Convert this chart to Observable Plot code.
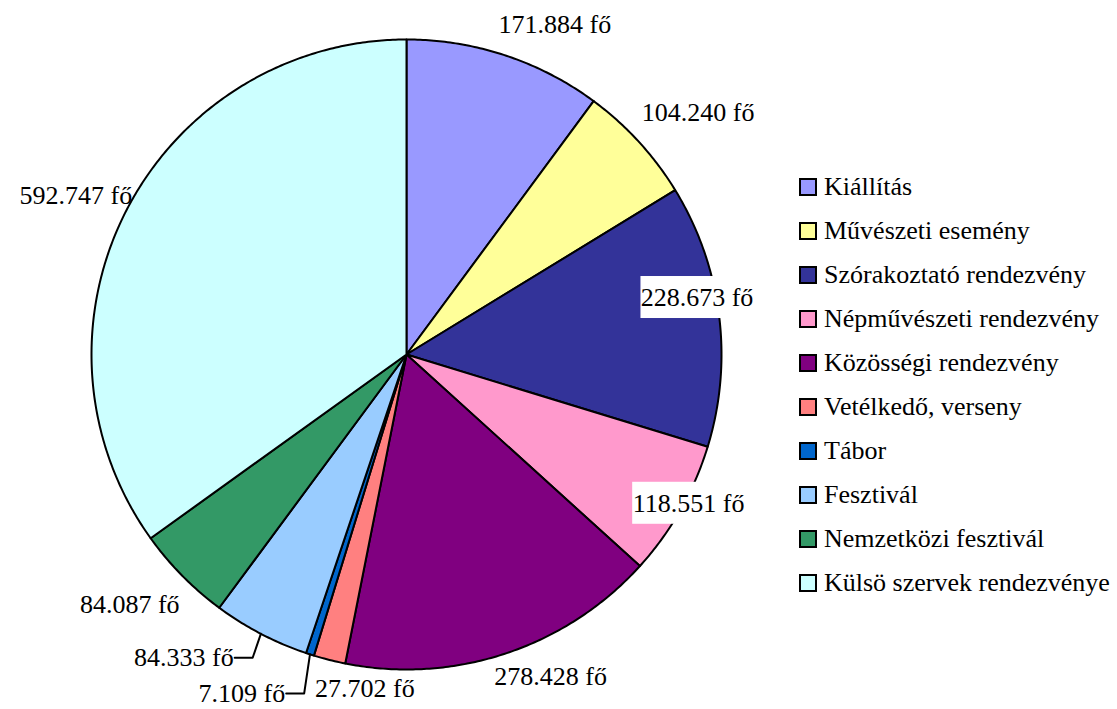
<!DOCTYPE html>
<html>
<head>
<meta charset="utf-8">
<script src="https://cdn.jsdelivr.net/npm/d3@7"></script>
<script src="https://cdn.jsdelivr.net/npm/@observablehq/plot@0.6"></script>
<style>
  html, body { margin: 0; padding: 0; background: #fff; }
  #wrap { position: relative; width: 1117px; height: 709px; overflow: hidden; }
  #legend { position: absolute; left: 799px; top: 165px; font-family: 'Liberation Serif', 'Times New Roman', Times, serif; font-size: 26px; color: #000; }
  .item { display: flex; align-items: center; height: 44px; white-space: nowrap; }
  .sw { width: 14px; height: 14px; border: 2px solid #000; margin-right: 7px; flex: none; }
</style>
</head>
<body>
<div id="wrap"><div id="chart"></div><div id="legend"></div></div>
<script>
const categories = ["Kiállítás", "Művészeti esemény", "Szórakoztató rendezvény", "Népművészeti rendezvény", "Közösségi rendezvény", "Vetélkedő, verseny", "Tábor", "Fesztivál", "Nemzetközi fesztivál", "Külsö szervek rendezvénye"];
const values = [171884, 104240, 228673, 118551, 278428, 27702, 7109, 84333, 84087, 592747];
const colors = ["#9999FF", "#FFFF99", "#333399", "#FF99CC", "#800080", "#FF8080", "#0066CC", "#99CCFF", "#339966", "#CCFFFF"];

// layout (not data)
const R = 315;
const W = 1117, H = 709;
const CX = 406, CY = 354;
const FONT = "'Liberation Serif', 'Times New Roman', Times, serif";
const FS = 26;
// label polar placement [angle deg clockwise from top, distance]; null = leader line label
const labelPolar = [[24.2, 362], [50.3, 379], [78.9, 296], [117.8, 319], [155.9, 353], [187.1, 337], null, null, [227.9, 373], [295.7, 367]];
const leaderElbow = {6: [196.8, 354], 7: [206.9, 340]};
const boxed = new Set([2, 3]);

const fmt = v => String(v).replace(/\B(?=(\d{3})+(?!\d))/g, ".") + " fő";
const total = d3.sum(values);
const rad = a => a * Math.PI / 180;
const pt = (a, r) => [r * Math.sin(rad(a)), r * Math.cos(rad(a))];

// slices
const slicePts = [];
let acc = 0;
const mids = [];
values.forEach((v, i) => {
  const a0 = acc / total * 360;
  acc += v;
  const a1 = acc / total * 360;
  mids.push((a0 + a1) / 2);
  slicePts.push({cat: categories[i], x: 0, y: 0});
  const n = Math.max(2, Math.ceil((a1 - a0) / 0.5));
  for (let k = 0; k <= n; k++) {
    const [x, y] = pt(a0 + (a1 - a0) * k / n, R);
    slicePts.push({cat: categories[i], x, y});
  }
  slicePts.push({cat: categories[i], x: 0, y: 0});
});

// labels
const midLabels = [];
const endLabels = [];
const leaderPts = [];
const boxes = [];
values.forEach((v, i) => {
  if (labelPolar[i]) {
    const [x, y] = pt(labelPolar[i][0], labelPolar[i][1]);
    midLabels.push({x, y, text: fmt(v)});
    if (boxed.has(i)) boxes.push({x1: x - 56, x2: x + 57, y1: y - 21, y2: y + 21});
  } else {
    const [sx, sy] = pt(mids[i], R);
    const [ex, ey] = pt(leaderElbow[i][0], leaderElbow[i][1]);
    leaderPts.push({g: i, x: sx, y: sy}, {g: i, x: ex, y: ey}, {g: i, x: ex - 18, y: ey});
    endLabels.push({x: ex - 19, y: ey, text: fmt(v)});
  }
});

const chart = Plot.plot({
  width: W, height: H,
  margin: 0,
  style: {fontFamily: FONT, background: "#fff"},
  x: {domain: [-CX, W - CX], axis: null},
  y: {domain: [-(H - CY), CY], axis: null},
  color: {domain: categories, range: colors},
  marks: [
    Plot.line(slicePts, {x: "x", y: "y", z: "cat", fill: "cat", stroke: "#000", strokeWidth: 2, strokeLinejoin: "round", curve: "linear"}),
    Plot.line(leaderPts, {x: "x", y: "y", z: "g", stroke: "#000", strokeWidth: 2}),
    Plot.rect(boxes, {x1: "x1", x2: "x2", y1: "y1", y2: "y2", fill: "#fff"}),
    Plot.text(midLabels, {x: "x", y: "y", text: "text", textAnchor: "middle", fontSize: FS, fontFamily: FONT, fill: "#000"}),
    Plot.text(endLabels, {x: "x", y: "y", text: "text", textAnchor: "end", fontSize: FS, fontFamily: FONT, fill: "#000"})
  ]
});
document.getElementById("chart").appendChild(chart);

const legend = document.getElementById("legend");
categories.forEach((c, i) => {
  const item = document.createElement("div");
  item.className = "item";
  const sw = document.createElement("div");
  sw.className = "sw";
  sw.style.background = colors[i];
  const t = document.createElement("span");
  t.textContent = c;
  item.appendChild(sw); item.appendChild(t);
  legend.appendChild(item);
});
</script>
</body>
</html>
